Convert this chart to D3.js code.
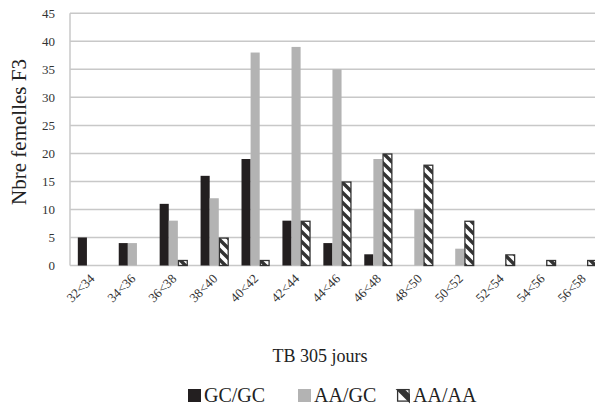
<!DOCTYPE html>
<html><head><meta charset="utf-8">
<script src="https://cdn.jsdelivr.net/npm/d3@7"></script>
<style>body{margin:0;background:#fff}svg{display:block}</style>
</head><body>
<svg id="c" width="595" height="405"></svg>
<script>
const categories = ["32<34","34<36","36<38","38<40","40<42","42<44","44<46","46<48","48<50","50<52","52<54","54<56","56<58"];
const seriesNames = ["GC/GC","AA/GC","AA/AA"];
const gcgc = [5,4,11,16,19,8,4,2,0,0,0,0,0];
const aagc = [0,4,8,12,38,39,35,19,10,3,0,0,0];
const aaaa = [0,0,1,5,1,8,15,20,18,8,2,1,1];
const yTicks = [0,5,10,15,20,25,30,35,40,45];
const seriesValues = [gcgc, aagc, aaaa];

const font = "'Liberation Serif','DejaVu Serif',serif";
const svg = d3.select("#c");
const defs = svg.append("defs");
const pat = defs.append("pattern").attr("id","hatch").attr("patternUnits","userSpaceOnUse")
  .attr("width",10).attr("height",10);
pat.append("rect").attr("width",10).attr("height",10).attr("fill","#fff");
pat.append("path").attr("d","M-2,-2 L12,12 M-2,8 L2,12 M8,-2 L12,2").attr("stroke","#333").attr("stroke-width",3.4);

const x0 = d3.scaleBand().domain(categories).range([71,603]).paddingInner(0.333).paddingOuter(0.1667);
const x1 = d3.scaleBand().domain(seriesNames).range([0,x0.bandwidth()]);
const y = d3.scaleLinear().domain([0,45]).range([265.5,13.3]);

// gridlines
svg.append("g").selectAll("line").data(yTicks.filter(t=>t>0)).join("line")
  .attr("x1",70).attr("x2",595).attr("y1",d=>y(d)).attr("y2",d=>y(d))
  .attr("stroke","#c8c8c8").attr("stroke-width",1.5);
// axes lines
svg.append("line").attr("x1",70).attr("x2",70).attr("y1",y(45)).attr("y2",y(0)).attr("stroke","#c8c8c8").attr("stroke-width",1.5);
svg.append("line").attr("x1",70).attr("x2",595).attr("y1",y(0)).attr("y2",y(0)).attr("stroke","#c8c8c8").attr("stroke-width",1.5);

// y tick labels
const yAxis = d3.axisLeft(y).tickValues(yTicks).tickSize(0).tickPadding(15);
const ya = svg.append("g").attr("transform","translate(70,0)").call(yAxis);
ya.select(".domain").remove();
ya.selectAll("text").attr("font-family",font).attr("font-size",13).attr("fill","#333");

// bars
const fills = ["#231f20","#b3b3b3","url(#hatch)"];
seriesNames.forEach((s,si)=>{
  const data = categories.map((c,i)=>({c, v:seriesValues[si][i]})).filter(d=>d.v>0);
  svg.append("g").selectAll("rect").data(data).join("rect")
    .attr("x",d=>x0(d.c)+x1(s)+(si===2?0.6:0))
    .attr("width",x1.bandwidth()-(si===2?0.3:0))
    .attr("y",d=>y(d.v)+(si===2?0.6:0))
    .attr("height",d=>y(0)-y(d.v)-(si===2?0.6:0))
    .attr("fill",fills[si])
    .attr("stroke",si===2?"#333":"none").attr("stroke-width",si===2?1.3:0);
});

// x tick labels
const xAxis = d3.axisBottom(x0).tickSize(0).tickPadding(0);
const xa = svg.append("g").attr("transform","translate(0,"+y(0)+")").call(xAxis);
xa.select(".domain").remove();
xa.selectAll("text").attr("font-family",font).attr("font-size",13).attr("fill","#333")
  .attr("text-anchor","end").attr("dy",null).attr("y",null)
  .attr("transform","translate(4,14) rotate(-45)");

// axis titles
svg.append("text").attr("transform","translate(26,132) rotate(-90)").attr("text-anchor","middle")
  .attr("font-family",font).attr("font-size",21).attr("fill","#222").text("Nbre femelles F3");
svg.append("text").attr("x",320).attr("y",362).attr("text-anchor","middle")
  .attr("font-family",font).attr("font-size",18).attr("fill","#222").text("TB 305 jours");

// legend
const legX = [188,298,397];
const lg = svg.append("g");
seriesNames.forEach((s,i)=>{
  lg.append("rect").attr("x",legX[i]+(i===2?0.6:0)).attr("y",389+(i===2?0.6:0)).attr("width",i===2?11.5:13).attr("height",i===2?11.5:13)
    .attr("fill",i===2?"#fff":fills[i]).attr("stroke",i===2?"#333":"none").attr("stroke-width",1.3);
  if(i===2){
    lg.append("path").attr("d",`M${legX[i]+1},${390} L${legX[i]+12},${401} L${legX[i]+12},${395} L${legX[i]+7},${390} Z`).attr("fill","#333").attr("stroke","#333").attr("stroke-width",2);
  }
  lg.append("text").attr("x",legX[i]+16).attr("y",402).attr("font-family",font).attr("font-size",20).attr("fill","#222").text(s);
});
</script>
</body></html>
